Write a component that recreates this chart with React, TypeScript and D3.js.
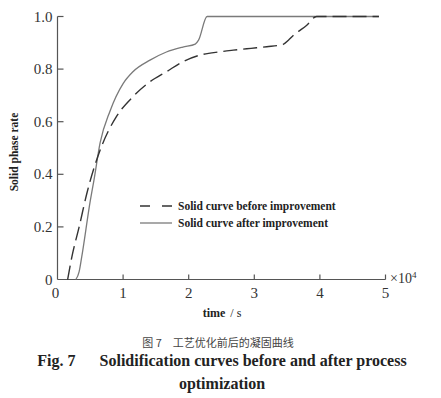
import React from "react";
import * as d3 from "d3";

// time (x10^4 s), solid phase rate
const beforeT = [0.155, 0.22, 0.33, 0.45, 0.67, 0.9, 1.15, 1.41, 1.66, 1.91, 2.17, 2.48, 2.68, 2.95, 3.19, 3.44, 3.52, 3.6, 3.8, 3.95, 4.9];
const beforeR = [0, 0.087, 0.2, 0.33, 0.505, 0.62, 0.695, 0.752, 0.79, 0.828, 0.853, 0.866, 0.872, 0.879, 0.885, 0.894, 0.91, 0.929, 0.967, 1.0, 1.0];

const afterT = [0.28, 0.33, 0.37, 0.5, 0.556, 0.65, 0.8, 1.0, 1.15, 1.41, 1.66, 1.91, 2.1, 2.15, 2.28, 4.9];
const afterR = [0, 0.03, 0.087, 0.3, 0.378, 0.52, 0.64, 0.745, 0.79, 0.834, 0.865, 0.884, 0.895, 0.91, 1.0, 1.0];

const xTicks = [0, 1, 2, 3, 4, 5];
const yTicks = [0, 0.2, 0.4, 0.6, 0.8, 1.0];
const yTickLabels = ["0", "0.2", "0.4", "0.6", "0.8", "1.0"];

const legendLabels = ["Solid curve before improvement", "Solid curve after improvement"];

export default function App() {
  const x = d3.scaleLinear().domain([0, 5]).range([57.5, 385.5]);
  const y = d3.scaleLinear().domain([0, 1]).range([279.5, 16.5]);

  const line = d3
    .line<[number, number]>()
    .x((d) => x(d[0]))
    .y((d) => y(d[1]))
    .curve(d3.curveMonotoneX);

  const before = beforeT.map((t, i) => [t, beforeR[i]] as [number, number]);
  const after = afterT.map((t, i) => [t, afterR[i]] as [number, number]);

  const serif = "'Liberation Serif', 'DejaVu Serif', serif";
  const axisCol = "#555";

  return (
    <svg
      width={441}
      height={398}
      style={{ position: "absolute", left: 0, top: 0, background: "#fff" }}
      fontFamily={serif}
    >
      {/* axes */}
      <line x1={x(0)} x2={x(5)} y1={y(0)} y2={y(0)} stroke={axisCol} strokeWidth={1.2} />
      <line x1={x(0)} x2={x(0)} y1={y(0)} y2={y(1)} stroke={axisCol} strokeWidth={1.2} />
      {xTicks.map((t) => (
        <g key={"xt" + t}>
          {t > 0 && <line x1={x(t)} x2={x(t)} y1={y(0)} y2={y(0) - 5} stroke={axisCol} strokeWidth={1.2} />}
          <text x={x(t) - (t === 0 ? 2 : 0)} y={y(0) + 18} fontSize={15} textAnchor="middle" fill="#333">
            {t}
          </text>
        </g>
      ))}
      {yTicks.map((t, i) => (
        <g key={"yt" + t}>
          {t > 0 && <line x1={x(0)} x2={x(0) + 6} y1={y(t)} y2={y(t)} stroke={axisCol} strokeWidth={1.2} />}
          <text x={x(0) - 5} y={y(t) + 5} fontSize={15} textAnchor="end" fill="#333">
            {yTickLabels[i]}
          </text>
        </g>
      ))}
      <text x={390} y={283} fontSize={14} fill="#333">
        ×10
        <tspan dy={-5} fontSize={9}>4</tspan>
      </text>

      {/* axis titles */}
      <text
        transform={`translate(18,${152}) rotate(-90)`}
        fontSize={11.5}
        fontWeight="bold"
        textAnchor="middle"
        fill="#222"
      >
        Solid phase rate
      </text>
      <text x={222} y={317} fontSize={12} textAnchor="middle" fill="#222">
        <tspan fontWeight="bold">time</tspan>
        <tspan dx={5}>/ s</tspan>
      </text>

      {/* curves */}
      <path d={line(after) ?? ""} fill="none" stroke="#7a7a7a" strokeWidth={1.3} />
      <path d={line(before) ?? ""} fill="none" stroke="#333" strokeWidth={1.4} strokeDasharray="14,6" />

      {/* legend */}
      <line x1={140} x2={172} y1={206} y2={206} stroke="#333" strokeWidth={1.4} strokeDasharray="10,12" />
      <text x={178} y={210} fontSize={11.5} fontWeight="bold" fill="#222">
        {legendLabels[0]}
      </text>
      <line x1={140} x2={172} y1={223} y2={223} stroke="#7a7a7a" strokeWidth={1.3} />
      <text x={178} y={227} fontSize={11.5} fontWeight="bold" fill="#222">
        {legendLabels[1]}
      </text>

      {/* caption */}
      <text x={218} y={347} fontSize={11} textAnchor="middle" fill="#444" fontFamily="'Noto Sans CJK SC', sans-serif">
        图 7　工艺优化前后的凝固曲线
      </text>
      <text x={222} y={366} fontSize={16} fontWeight="bold" textAnchor="middle" fill="#222">
        Fig. 7{"\u2003\u2002"}Solidification curves before and after process
      </text>
      <text x={222} y={389} fontSize={16} fontWeight="bold" textAnchor="middle" fill="#222">
        optimization
      </text>
    </svg>
  );
}
